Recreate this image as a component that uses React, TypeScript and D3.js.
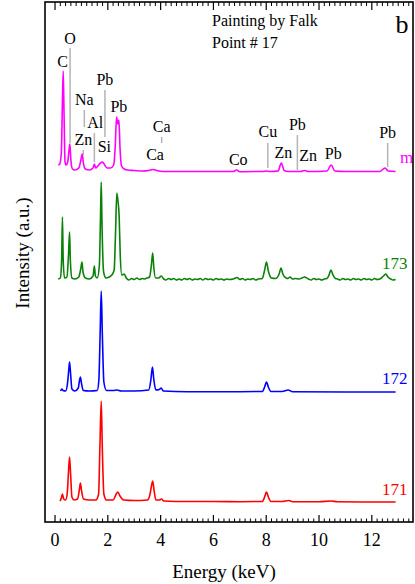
import React, { useEffect, useRef } from "react";
import * as d3 from "d3";

// spectra: [energy keV, intensity a.u. above own baseline]
const spectrum171: [number, number][] = [
  [0.19, 1], [0.24, 4], [0.28, 8], [0.33, 3], [0.4, 2], [0.46, 8], [0.51, 30], [0.55, 45], [0.59, 28], [0.64, 5],
  [0.72, 2], [0.85, 3], [0.92, 12], [0.96, 19], [1.0, 12], [1.08, 3], [1.3, 2], [1.55, 2], [1.65, 8], [1.7, 55],
  [1.75, 101], [1.79, 55], [1.85, 8], [1.95, 2], [2.2, 2], [2.3, 7], [2.38, 10], [2.46, 6], [2.6, 2], [3.0, 1.5],
  [3.5, 2], [3.6, 8], [3.66, 17], [3.7, 21], [3.75, 12], [3.82, 2], [3.95, 2], [4.03, 3], [4.12, 1], [5.0, 0.5],
  [6.0, 0.5], [7.0, 0.3], [7.85, 0.5], [7.94, 5], [8.01, 10], [8.08, 5], [8.18, 0.5], [8.6, 0.5], [8.85, 1.5],
  [9.0, 0.3], [10.0, 0.3], [10.45, 1], [10.7, 0.3], [12.0, 0], [12.9, 0],
];

const spectrum172: [number, number][] = [
  [0.21, 1], [0.26, 3], [0.3, 1.5], [0.4, 1], [0.47, 8], [0.52, 22], [0.55, 30], [0.59, 18], [0.64, 3], [0.75, 1],
  [0.88, 4], [0.93, 12], [0.96, 15], [1.0, 9], [1.07, 1.5], [1.3, 1], [1.6, 1.5], [1.66, 12], [1.71, 60], [1.75, 101],
  [1.79, 60], [1.85, 10], [1.95, 1.5], [2.2, 1.5], [2.35, 2], [2.5, 1], [3.0, 1], [3.55, 2], [3.63, 12], [3.69, 25],
  [3.74, 13], [3.82, 2], [3.95, 2.5], [4.02, 4], [4.1, 1], [5.0, 0.3], [7.0, 0.3], [7.85, 0.5], [7.94, 5],
  [8.01, 10], [8.08, 5], [8.18, 0.5], [8.6, 0.5], [8.83, 2], [9.0, 0.3], [11.0, 0], [12.9, 0],
];

const spectrum173: [number, number][] = [
  [0.12, 1], [0.2, 2], [0.25, 20], [0.28, 63], [0.31, 20], [0.36, 2], [0.45, 3], [0.51, 25], [0.55, 48], [0.58, 20],
  [0.64, 2], [0.75, 1], [0.9, 3], [0.98, 12], [1.02, 18], [1.06, 8], [1.15, 2], [1.3, 1], [1.44, 4], [1.49, 14],
  [1.53, 4], [1.6, 2], [1.68, 15], [1.72, 60], [1.75, 98], [1.78, 55], [1.84, 8], [1.93, 2], [2.05, 3], [2.15, 5],
  [2.24, 10], [2.29, 45], [2.34, 87], [2.38, 80], [2.43, 63], [2.47, 25], [2.53, 5], [2.62, 6], [2.7, 2], [2.8, 0],
  [2.9, 1.5], [3.0, 0.5], [3.1, 2], [3.2, 0.5], [3.3, 1.5], [3.4, 1], [3.48, 2], [3.58, 3], [3.65, 15], [3.7, 27],
  [3.74, 13], [3.81, 2], [3.93, 2], [4.02, 4], [4.12, 1], [4.2, 0], [4.3, 1.5], [4.4, 0.5], [4.5, 1.5], [4.6, 0],
  [4.7, 1], [4.8, 0], [4.9, 1.5], [5.0, 0.5], [5.1, 1.5], [5.2, 0], [5.3, 1], [5.4, 0.5], [5.5, 1.5], [5.6, 0],
  [5.7, 1.5], [5.8, 0.5], [5.9, 1], [6.0, 0], [6.1, 1.5], [6.2, 0.5], [6.3, 1], [6.4, 0], [6.5, 1], [6.6, 0.5],
  [6.75, 1], [6.9, 2.5], [7.0, 0.5], [7.1, 1.5], [7.2, 0], [7.3, 1], [7.4, 0.5], [7.5, 1.5], [7.6, 0], [7.7, 1],
  [7.85, 1.5], [7.94, 10], [8.01, 18], [8.08, 9], [8.2, 2], [8.35, 1.5], [8.49, 6], [8.56, 12], [8.63, 6], [8.75, 2],
  [8.82, 1.5], [8.9, 3], [9.0, 1], [9.1, 1.5], [9.25, 1], [9.35, 2], [9.45, 3], [9.6, 1], [9.7, 0], [9.8, 1.5],
  [9.9, 0.5], [10.0, 1], [10.1, 0], [10.2, 1], [10.3, 1.5], [10.38, 5], [10.45, 10], [10.53, 5], [10.62, 1.5],
  [10.7, 1], [10.8, 0], [10.9, 1.5], [11.0, 0.5], [11.1, 1], [11.2, 0], [11.3, 1.5], [11.4, 0.5], [11.5, 1],
  [11.6, 0], [11.7, 1.5], [11.8, 0.5], [11.9, 1], [12.0, 0], [12.1, 1.5], [12.2, 0.5], [12.3, 1], [12.44, 4],
  [12.53, 6], [12.61, 3], [12.72, 1], [12.8, 0], [12.9, 0.5],
];

const spectrumM: [number, number][] = [
  [0.12, 7], [0.18, 8], [0.24, 20], [0.28, 70], [0.31, 101], [0.34, 60], [0.38, 10], [0.42, 7], [0.48, 10],
  [0.53, 22], [0.56, 28], [0.6, 12], [0.66, 3], [0.75, 2], [0.9, 4], [0.98, 12], [1.03, 18], [1.08, 8], [1.15, 3],
  [1.3, 2], [1.44, 4], [1.49, 8], [1.54, 4], [1.62, 6], [1.72, 9], [1.8, 10], [1.88, 7], [1.98, 4], [2.1, 4],
  [2.22, 7], [2.28, 25], [2.33, 55], [2.38, 48], [2.42, 52], [2.46, 25], [2.52, 6], [2.62, 3], [2.75, 2], [3.0, 1.5],
  [3.3, 1], [3.55, 1.5], [3.72, 2.5], [3.85, 1.5], [4.1, 0.5], [5.0, 0.5], [6.0, 0.5], [6.75, 0.5], [6.88, 2],
  [7.0, 0.3], [7.85, 0.5], [8.0, 1], [8.15, 0.5], [8.45, 1], [8.57, 9], [8.68, 1.5], [8.85, 0.5], [9.3, 0.5],
  [9.45, 1.5], [9.6, 0.5], [10.3, 1], [10.46, 7], [10.6, 1], [11.0, 0.5], [12.3, 0.5], [12.5, 4], [12.62, 1],
  [12.9, 0.5],
];

const seriesNames = ["171", "172", "173", "m"];
const seriesOffsets = [20, 130, 242, 350];
const seriesColors = ["#ff0000", "#0000ff", "#0a820a", "#ff00ff"];
const seriesData = [spectrum171, spectrum172, spectrum173, spectrumM];
// label y position (a.u., absolute)
const seriesLabelY = [27, 138, 253, 359];

// element annotations: label, energy, text baseline (a.u.), optional guide line [from, to]
const elementLabels = ["C", "O", "Pb", "Na", "Pb", "Al", "Ca", "Zn", "Si", "Ca", "Co", "Cu", "Pb", "Zn", "Zn", "Pb", "Pb"];
const elementEnergies = [0.29, 0.57, 1.89, 1.11, 2.42, 1.52, 4.04, 1.07, 1.87, 3.79, 6.94, 8.06, 9.18, 8.65, 9.59, 10.54, 12.6];
const elementTextY = [455, 478, 437, 417, 410, 394, 390, 377, 370, 362, 357, 385, 392, 364, 361, 363, 384];
const guideEnergies = [0.57, 1.89, 1.11, 1.49, 4.04, 1.07, 8.06, 9.18, 12.6];
const guideFrom = [474, 432, 412, 389, 385, 372, 379, 387, 379];
const guideTo = [379, 385, 395, 360, 379, 367, 354, 352, 355];

const xTicks = [0, 2, 4, 6, 8, 10, 12];

const SERIF = '"Times New Roman", "Liberation Serif", "DejaVu Serif", "Noto Serif", serif';

const App = () => {
  const svgRef = useRef<SVGSVGElement>(null);

  useEffect(() => {
    const svg = d3.select(svgRef.current);
    svg.selectAll("*").remove();

    const W = 415;
    const H = 584;
    const margin = { top: 2, right: 2, bottom: 62, left: 45 };

    const x = d3.scaleLinear().domain([-0.38, 13.56]).range([margin.left, W - margin.right]);
    const y = d3.scaleLinear().domain([0, 520]).range([H - margin.bottom, margin.top]);

    // guide lines behind everything
    guideEnergies.forEach((e, i) => {
      svg.append("line")
        .attr("x1", x(e)).attr("x2", x(e))
        .attr("y1", y(guideFrom[i])).attr("y2", y(guideTo[i]))
        .attr("stroke", "#b4b4b4").attr("stroke-width", 1.5);
    });

    // spectra
    seriesData.forEach((pts, i) => {
      const line = d3.line<[number, number]>()
        .x((d) => x(d[0]))
        .y((d) => y(d[1] + seriesOffsets[i]))
        .curve(d3.curveMonotoneX);
      svg.append("path")
        .attr("d", line(pts))
        .attr("fill", "none")
        .attr("stroke", seriesColors[i])
        .attr("stroke-width", 1.6)
        .attr("stroke-linejoin", "round");
    });

    // series labels
    seriesNames.forEach((n, i) => {
      const isM = n === "m";
      svg.append("text")
        .attr("x", isM ? x(13.32) : x(13.35))
        .attr("y", y(seriesLabelY[i]))
        .attr("text-anchor", isM ? "middle" : "end")
        .attr("font-size", 17)
        .attr("fill", seriesColors[i])
        .text(n);
    });

    // element labels
    elementLabels.forEach((lab, i) => {
      svg.append("text")
        .attr("x", x(elementEnergies[i]))
        .attr("y", y(elementTextY[i]))
        .attr("text-anchor", "middle")
        .attr("font-size", 16)
        .attr("fill", "#000")
        .text(lab);
    });

    // title text
    svg.append("text").attr("x", 212).attr("y", 26)
      .attr("font-size", 16).text("Painting by Falk");
    svg.append("text").attr("x", 212).attr("y", 48)
      .attr("font-size", 16).text("Point # 17");
    svg.append("text").attr("x", 402).attr("y", 33).attr("text-anchor", "middle")
      .attr("font-size", 26).text("b");

    // ticks top and bottom (inward)
    const minor = d3.range(0, 13.5, 0.2).filter((v) => Math.abs(v / 2 - Math.round(v / 2)) > 1e-6);
    const bottom = H - margin.bottom;
    const top = margin.top;
    minor.forEach((v) => {
      svg.append("line").attr("x1", x(v)).attr("x2", x(v)).attr("y1", bottom).attr("y2", bottom - 3.5)
        .attr("stroke", "#000").attr("stroke-width", 1);
      svg.append("line").attr("x1", x(v)).attr("x2", x(v)).attr("y1", top).attr("y2", top + 4)
        .attr("stroke", "#000").attr("stroke-width", 1);
    });
    xTicks.forEach((v) => {
      svg.append("line").attr("x1", x(v)).attr("x2", x(v)).attr("y1", bottom).attr("y2", bottom - 7)
        .attr("stroke", "#000").attr("stroke-width", 1.2);
      svg.append("line").attr("x1", x(v)).attr("x2", x(v)).attr("y1", top).attr("y2", top + 8)
        .attr("stroke", "#000").attr("stroke-width", 1.2);
      svg.append("text")
        .attr("x", x(v)).attr("y", 546)
        .attr("text-anchor", "middle")
        .attr("font-size", 18)
        .text(v);
    });

    // frame
    svg.append("rect")
      .attr("x", margin.left).attr("y", margin.top)
      .attr("width", W - margin.left - margin.right)
      .attr("height", H - margin.top - margin.bottom)
      .attr("fill", "none").attr("stroke", "#000").attr("stroke-width", 1.6);

    // axis titles
    svg.append("text")
      .attr("x", x(6.4)).attr("y", 578)
      .attr("text-anchor", "middle")
      .attr("font-size", 19)
      .text("Energy (keV)");
    svg.append("text")
      .attr("transform", `translate(29,${253}) rotate(-90)`)
      .attr("text-anchor", "middle")
      .attr("font-size", 19)
      .text("Intensity (a.u.)");

    svg.selectAll("text").attr("font-family", SERIF);
  }, []);

  return (
    <svg
      ref={svgRef}
      width={415}
      height={584}
      style={{ position: "absolute", left: 0, top: 0, background: "#fff", fontFamily: SERIF }}
    ></svg>
  );
};

export default App;
